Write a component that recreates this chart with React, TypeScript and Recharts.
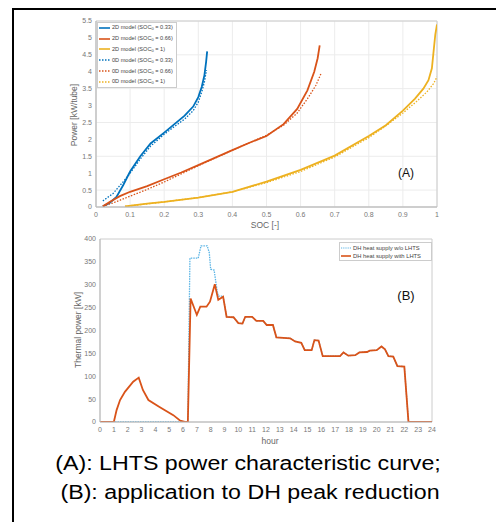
import React from 'react';
import { LineChart, Line, XAxis, YAxis, CartesianGrid, ReferenceArea } from 'recharts';

// ---------- Chart A data (SOC [-] vs Power [kW/tube]) ----------
const socTicks = [0, 0.1, 0.2, 0.3, 0.4, 0.5, 0.6, 0.7, 0.8, 0.9, 1];
const powerTicks = [0, 0.5, 1, 1.5, 2, 2.5, 3, 3.5, 4, 4.5, 5, 5.5];

const blue2dSoc = [0.02, 0.04, 0.06, 0.08, 0.1, 0.13, 0.16, 0.2, 0.23, 0.26, 0.285, 0.3, 0.31, 0.318, 0.323, 0.326];
const blue2dP = [0.02, 0.12, 0.3, 0.65, 1.05, 1.5, 1.88, 2.2, 2.45, 2.7, 2.97, 3.25, 3.55, 3.9, 4.3, 4.6];
const blue0dSoc = [0.02, 0.05, 0.08, 0.1, 0.13, 0.16, 0.2, 0.23, 0.26, 0.285, 0.3, 0.31, 0.318, 0.324];
const blue0dP = [0.18, 0.4, 0.75, 1.0, 1.42, 1.8, 2.15, 2.38, 2.6, 2.85, 3.1, 3.4, 3.7, 4.05];

const red2dSoc = [0.02, 0.04, 0.07, 0.1, 0.15, 0.2, 0.25, 0.3, 0.35, 0.4, 0.45, 0.5, 0.55, 0.59, 0.62, 0.64, 0.65, 0.656];
const red2dP = [0.02, 0.15, 0.32, 0.45, 0.62, 0.82, 1.02, 1.24, 1.46, 1.68, 1.9, 2.1, 2.45, 2.9, 3.45, 4.0, 4.4, 4.78];
const red0dSoc = [0.02, 0.05, 0.1, 0.15, 0.2, 0.25, 0.3, 0.35, 0.4, 0.45, 0.5, 0.55, 0.59, 0.62, 0.645, 0.66];
const red0dP = [0.02, 0.12, 0.32, 0.52, 0.74, 0.98, 1.22, 1.45, 1.68, 1.9, 2.12, 2.42, 2.78, 3.2, 3.6, 3.95];

const yel2dSoc = [0.085, 0.15, 0.2, 0.3, 0.4, 0.5, 0.6, 0.7, 0.8, 0.85, 0.9, 0.935, 0.96, 0.975, 0.985, 0.99, 0.995, 1.0];
const yel2dP = [0.02, 0.1, 0.15, 0.28, 0.45, 0.75, 1.1, 1.52, 2.1, 2.42, 2.85, 3.2, 3.5, 3.75, 4.1, 4.6, 5.1, 5.4];
const yel0dSoc = [0.085, 0.2, 0.3, 0.4, 0.5, 0.6, 0.7, 0.8, 0.85, 0.9, 0.94, 0.97, 0.99, 1.0];
const yel0dP = [0.02, 0.15, 0.28, 0.45, 0.72, 1.05, 1.48, 2.05, 2.4, 2.78, 3.12, 3.4, 3.65, 3.85];

const seriesALabels = ['0.33', '0.66', '1'];

// ---------- Chart B data (hour vs Thermal power [kW]) ----------
const hourTicks = Array.from({ length: 25 }, (_, i) => i);
const thermalTicks = [0, 50, 100, 150, 200, 250, 300, 350, 400];

const withHours = [0, 1, 1.2, 1.45, 1.8, 2.4, 2.8, 3.1, 3.5, 4.3, 5.3, 5.8, 6.2, 6.35, 6.55, 7.0, 7.25, 7.7, 7.95, 8.3, 8.55, 8.9, 9.15, 9.65, 10.0, 10.3, 10.5, 11.0, 11.3, 11.8, 12.05, 12.5, 12.75, 13.75, 14.1, 14.55, 14.8, 15.3, 15.5, 15.8, 16.1, 17.35, 17.6, 17.95, 18.45, 18.75, 19.3, 19.5, 20.0, 20.35, 20.6, 20.85, 21.2, 21.5, 22.0, 22.3, 24];
const withPower = [0, 0, 26, 48, 66, 88, 97, 70, 48, 33, 15, 3, 0, 0, 270, 234, 252, 252, 263, 301, 267, 274, 230, 229, 216, 215, 230, 230, 221, 221, 212, 212, 185, 183, 176, 173, 157, 157, 179, 178, 144, 144, 152, 145, 146, 152, 153, 156, 157, 165, 159, 144, 143, 122, 121, 0, 0];

const withoutPeakHours = [0, 6.35, 6.5, 7.1, 7.3, 7.75, 7.9, 8.0, 8.25, 8.45, 8.55, 8.9];
const withoutPeakPower = [0, 0, 358, 358, 385, 385, 370, 334, 332, 290, 275, 275];

const zip = (xs: number[], ys: number[]) => xs.map((x, i) => ({ x, y: ys[i] }));

const C_BLUE = '#0072BD';
const C_RED = '#D95319';
const C_YEL = '#EDB120';
const C_LBLUE = '#5AB4E5';

const FONT = '"Liberation Sans", Arial, sans-serif';

const tailStart = withHours.indexOf(9.15);
const withoutData = zip(
  withoutPeakHours.concat(withHours.slice(tailStart)),
  withoutPeakPower.concat(withPower.slice(tailStart))
);
const withData = zip(withHours, withPower);

const aSeries = [
  { name: '2D', color: C_BLUE, data: zip(blue2dSoc, blue2dP), dotted: false, lbl: seriesALabels[0] },
  { name: '2D', color: C_RED, data: zip(red2dSoc, red2dP), dotted: false, lbl: seriesALabels[1] },
  { name: '2D', color: C_YEL, data: zip(yel2dSoc, yel2dP), dotted: false, lbl: seriesALabels[2] },
  { name: '0D', color: C_BLUE, data: zip(blue0dSoc, blue0dP), dotted: true, lbl: seriesALabels[0] },
  { name: '0D', color: C_RED, data: zip(red0dSoc, red0dP), dotted: true, lbl: seriesALabels[1] },
  { name: '0D', color: C_YEL, data: zip(yel0dSoc, yel0dP), dotted: true, lbl: seriesALabels[2] },
];

const LegendA = () => (
  <div style={{ position: 'absolute', left: 97, top: 21.5, border: '1px solid #ccc', background: '#fff', width: 80, fontFamily: FONT, fontSize: 5.6, color: '#444', boxSizing: 'border-box' }}>
    {aSeries.map((s, i) => (
      <div key={i} style={{ height: 10.8, display: 'flex', alignItems: 'center', whiteSpace: 'nowrap' }}>
        <svg width={12} height={6} style={{ marginLeft: 1, marginRight: 1 }}>
          <line x1={0} y1={3} x2={11} y2={3} stroke={s.color} strokeWidth={s.dotted ? 1.3 : 1.6} strokeDasharray={s.dotted ? '1.5 1.5' : undefined} />
        </svg>
        <span>{s.name} model (SOC<sub style={{ fontSize: 4, verticalAlign: -1 }}>0</sub> = {s.lbl})</span>
      </div>
    ))}
  </div>
);

const LegendB = () => (
  <div style={{ position: 'absolute', left: 339, top: 242, border: '1px solid #ccc', background: '#fff', width: 93, height: 19, fontFamily: FONT, fontSize: 5.8, color: '#444', boxSizing: 'border-box', paddingTop: 0.5 }}>
    {[
      { c: C_LBLUE, d: true, t: 'DH heat supply w/o LHTS' },
      { c: C_RED, d: false, t: 'DH heat supply with LHTS' },
    ].map((s, i) => (
      <div key={i} style={{ height: 8.5, display: 'flex', alignItems: 'center', whiteSpace: 'nowrap' }}>
        <svg width={11} height={6} style={{ marginLeft: 1, marginRight: 1 }}>
          <line x1={0} y1={3} x2={10} y2={3} stroke={s.c} strokeWidth={s.d ? 1.2 : 1.6} strokeDasharray={s.d ? '1.2 1' : undefined} />
        </svg>
        <span>{s.t}</span>
      </div>
    ))}
  </div>
);

const tickStyle = { fontSize: 7, fill: '#777', fontFamily: FONT };
const titleStyle: React.CSSProperties = { position: 'absolute', fontSize: 8.5, color: '#666', whiteSpace: 'nowrap' };
const captionStyle: React.CSSProperties = { position: 'absolute', fontSize: 20, color: '#000', whiteSpace: 'nowrap' };

export default function App() {
  return (
    <div style={{ position: 'absolute', left: 0, top: 0, width: 496, height: 522, background: '#fff', overflow: 'hidden', fontFamily: FONT }}>
      <div style={{ position: 'absolute', left: 12, top: 8, width: 600, height: 600, borderLeft: '2px solid #000', borderTop: '2px solid #000' }} />

      {/* Chart A */}
      <div style={{ position: 'absolute', left: 0, top: 0 }}>
        <LineChart width={496} height={240} margin={{ top: 21, right: 59, bottom: 13, left: 66 }}>
          <CartesianGrid stroke="#ececec" />
          <XAxis type="number" dataKey="x" domain={[0, 1]} ticks={socTicks} allowDataOverflow height={20}
            tick={tickStyle} tickLine={false} tickSize={3} tickMargin={2} axisLine={{ stroke: '#bbb' }} />
          <YAxis type="number" dataKey="y" domain={[0, 5.5]} ticks={powerTicks} allowDataOverflow width={30}
            tick={tickStyle} tickLine={false} tickSize={4} tickMargin={0} axisLine={{ stroke: '#bbb' }} />
          <ReferenceArea x1={0} x2={1} y1={0} y2={5.5} fill="none" stroke="#ccc" strokeWidth={1} />
          {aSeries.map((s, i) => (
            <Line key={i} data={s.data} dataKey="y" type="linear" stroke={s.color}
              strokeWidth={s.dotted ? 1.3 : 1.8} strokeDasharray={s.dotted ? '1.5 1.5' : undefined}
              dot={false} isAnimationActive={false} />
          ))}
        </LineChart>
      </div>

      {/* Chart B */}
      <div style={{ position: 'absolute', left: 0, top: 230 }}>
        <LineChart width={496} height={220} margin={{ top: 9, right: 64, bottom: 8, left: 70 }}>
          <XAxis type="number" dataKey="x" domain={[0, 24]} ticks={hourTicks} allowDataOverflow height={20}
            tick={tickStyle} tickLine={false} tickSize={3} tickMargin={2} axisLine={{ stroke: '#bbb' }} />
          <YAxis type="number" dataKey="y" domain={[0, 400]} ticks={thermalTicks} allowDataOverflow width={30}
            tick={tickStyle} tickLine={false} tickSize={4} tickMargin={0} axisLine={{ stroke: '#bbb' }} />
          <ReferenceArea x1={0} x2={24} y1={0} y2={400} fill="none" stroke="#ccc" strokeWidth={1} />
          <Line data={withoutData} dataKey="y" type="linear" stroke={C_LBLUE} strokeWidth={1.3}
            strokeDasharray="1.5 1" dot={false} isAnimationActive={false} />
          <Line data={withData} dataKey="y" type="linear" stroke={C_RED} strokeWidth={1.8}
            dot={false} isAnimationActive={false} />
        </LineChart>
      </div>

      <LegendA />
      <LegendB />

      {/* Axis titles and panel tags */}
      <div style={{ ...titleStyle, left: 74, top: 115, transform: 'translate(-50%,-50%) rotate(-90deg)' }}>Power [kW/tube]</div>
      <div style={{ ...titleStyle, left: 265, top: 225, transform: 'translate(-50%,-50%)' }}>SOC [-]</div>
      <div style={{ ...titleStyle, left: 78, top: 330, transform: 'translate(-50%,-50%) rotate(-90deg)' }}>Thermal power [kW]</div>
      <div style={{ ...titleStyle, left: 270, top: 441, transform: 'translate(-50%,-50%)' }}>hour</div>
      <div style={{ ...titleStyle, left: 406, top: 173, transform: 'translate(-50%,-50%)', fontSize: 12, color: '#111' }}>(A)</div>
      <div style={{ ...titleStyle, left: 406, top: 295, transform: 'translate(-50%,-50%)', fontSize: 13, color: '#111' }}>(B)</div>

      {/* Caption */}
      <div style={{ ...captionStyle, left: 248, top: 463, transform: 'translate(-50%,-50%) scaleX(1.16)' }}>(A): LHTS power characteristic curve;</div>
      <div style={{ ...captionStyle, left: 250, top: 492, transform: 'translate(-50%,-50%) scaleX(1.16)' }}>(B): application to DH peak reduction</div>
    </div>
  );
}
